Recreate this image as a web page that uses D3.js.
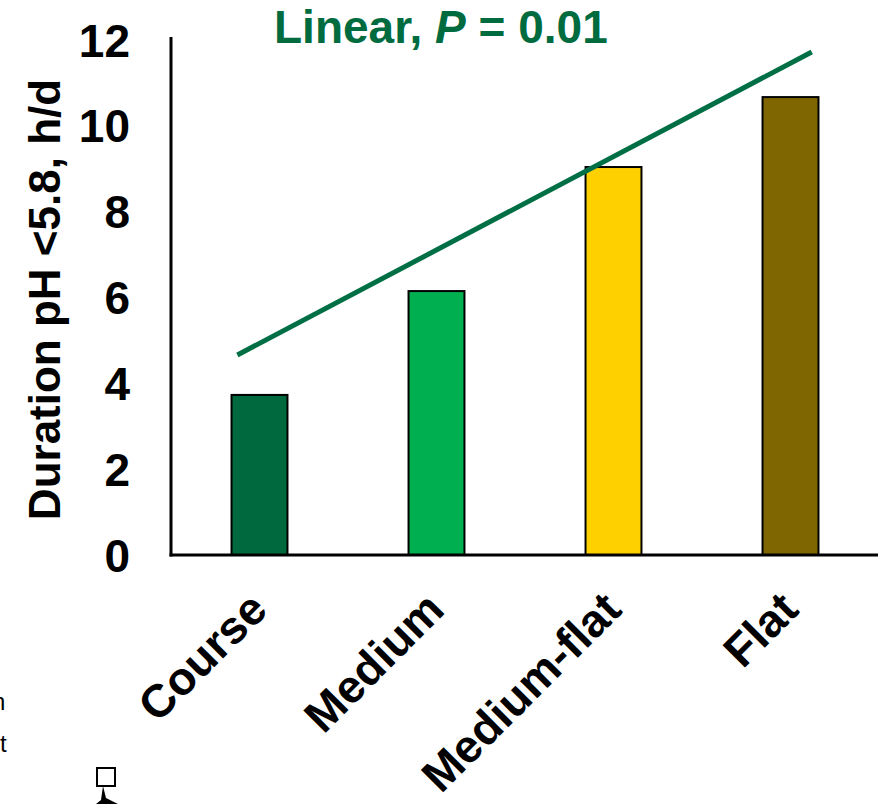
<!DOCTYPE html>
<meta charset="utf-8">
<style>
  body { margin: 0; background: #fff; }
  text { font-family: "Liberation Sans", Arial, sans-serif; }
  .tick-label, .x-label, .y-title { font-weight: bold; fill: #000; }
</style>
<body>
<script src="https://d3js.org/d3.v7.min.js"></script>
<script>
  // data
  var categories = ["Course", "Medium", "Medium-flat", "Flat"];
  var values = [3.73, 6.15, 9.04, 10.67];
  var barColors = ["#006A3E", "#00B050", "#FFD000", "#7F6600"];
  var yTicks = [0, 2, 4, 6, 8, 10, 12];
  // trend line: position in category index units, value
  var trendIdx = [-0.125, 3.12];
  var trendVal = [4.66, 11.72];

  var W = 892, H = 804;
  var mLeft = 171, mRight = 879, mTop = 40, mBottom = 555;

  var svg = d3.select("body").append("svg")
    .attr("width", W).attr("height", H);

  var x = d3.scaleBand().domain(categories).range([mLeft, mRight]).paddingInner(0.684).paddingOuter(0.342);
  var y = d3.scaleLinear().domain([0, 12]).range([mBottom, mTop]);
  var xi = d3.scaleLinear().domain([0, 3])
    .range([x(categories[0]) + x.bandwidth() / 2, x(categories[3]) + x.bandwidth() / 2]);

  // bars
  svg.selectAll("rect.bar")
    .data(values)
    .enter().append("rect")
    .attr("class", "bar")
    .attr("x", function (d, i) { return x(categories[i]); })
    .attr("y", function (d) { return y(d); })
    .attr("width", x.bandwidth())
    .attr("height", function (d) { return y(0) - y(d); })
    .attr("fill", function (d, i) { return barColors[i]; })
    .attr("stroke", "#000")
    .attr("stroke-width", 2);

  // axes lines
  svg.append("line")
    .attr("x1", mLeft).attr("x2", mLeft)
    .attr("y1", mTop - 3).attr("y2", mBottom + 1.5)
    .attr("stroke", "#000").attr("stroke-width", 3);
  svg.append("line")
    .attr("x1", mLeft - 1.5).attr("x2", 878)
    .attr("y1", mBottom).attr("y2", mBottom)
    .attr("stroke", "#000").attr("stroke-width", 3);

  // y tick labels
  svg.selectAll("text.tick-label")
    .data(yTicks)
    .enter().append("text")
    .attr("class", "tick-label")
    .attr("x", 130)
    .attr("y", function (d) { return y(d); })
    .attr("dy", "0.36em")
    .attr("text-anchor", "end")
    .attr("font-size", 46)
    .text(function (d) { return d; });

  // y title
  svg.append("text")
    .attr("class", "y-title")
    .attr("transform", "translate(60," + ((mTop + mBottom) / 2 + 2) + ") rotate(-90)")
    .attr("text-anchor", "middle")
    .attr("font-size", 44)
    .text("Duration pH <5.8, h/d");

  // x labels rotated
  svg.selectAll("text.x-label")
    .data(categories)
    .enter().append("text")
    .attr("class", "x-label")
    .attr("transform", function (d) {
      return "translate(" + (x(d) + x.bandwidth() / 2 + 10) + ",612) rotate(-45)";
    })
    .attr("text-anchor", "end")
    .attr("font-size", 46)
    .text(function (d) { return d; });

  // trend line
  svg.append("line")
    .attr("x1", xi(trendIdx[0])).attr("y1", y(trendVal[0]))
    .attr("x2", xi(trendIdx[1])).attr("y2", y(trendVal[1]))
    .attr("stroke", "#006F45").attr("stroke-width", 5);

  // annotation
  var ann = svg.append("text")
    .attr("x", 274).attr("y", 43)
    .attr("font-size", 46).attr("font-weight", "bold")
    .attr("fill", "#006B3F");
  ann.append("tspan").text("Linear, ");
  ann.append("tspan").attr("font-style", "italic").text("P");
  ann.append("tspan").text(" = 0.01");

  // cropped slide remnants at the lower left
  svg.append("text").attr("x", -8).attr("y", 710).attr("font-size", 24).text("n");
  svg.append("text").attr("x", 0).attr("y", 752).attr("font-size", 24).text("t");
  svg.append("rect").attr("x", 97).attr("y", 768).attr("width", 18).attr("height", 18)
    .attr("fill", "none").attr("stroke", "#000").attr("stroke-width", 2);
  svg.append("path").attr("d", "M103,786 L101,800 L96,804 L118,804 L106,798 Z").attr("fill", "#000");
</script>
</body>
